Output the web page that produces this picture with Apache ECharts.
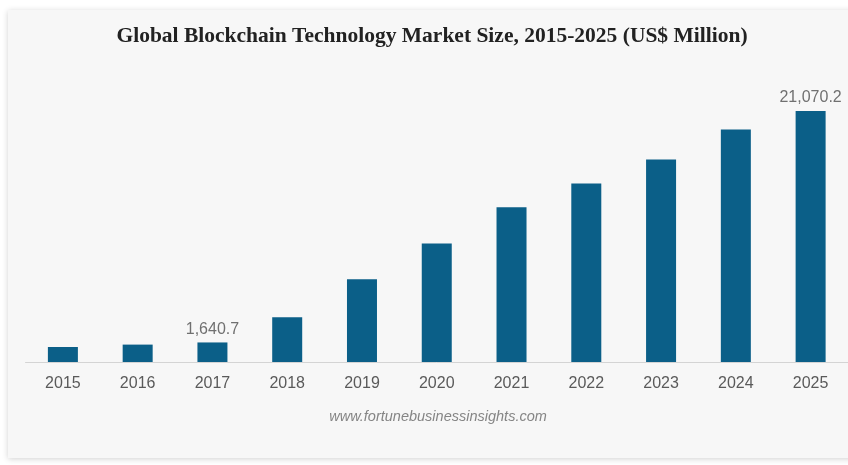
<!DOCTYPE html>
<html>
<head>
<meta charset="utf-8">
<style>
html,body{margin:0;padding:0;background:#ffffff;}
#chart{width:848px;height:465px;}
</style>
<script src="https://cdn.jsdelivr.net/npm/echarts@6/dist/echarts.min.js"></script>
</head>
<body>
<div id="chart"></div>
<script>
const years = ['2015','2016','2017','2018','2019','2020','2021','2022','2023','2024','2025'];
const marketSize = [1260, 1460, 1640.7, 3750, 6940, 9940, 12990, 14980, 16990, 19510, 21070.2];
const labeledYears = ['2017','2025'];
const titleText = 'Global Blockchain Technology Market Size, 2015-2025 (US$ Million)';
const sourceText = 'www.fortunebusinessinsights.com';

function fmt(v){
  const parts = v.toFixed(1).split('.');
  parts[0] = parts[0].replace(/\B(?=(\d{3})+(?!\d))/g, ',');
  return parts.join('.');
}

const chart = echarts.init(document.getElementById('chart'));
chart.setOption({
  backgroundColor: '#ffffff',
  animation: false,
  graphic: [
    {type:'rect', z:-10, shape:{x:8, y:10, width:850, height:448},
     style:{fill:'#f7f7f7', shadowBlur:6, shadowColor:'rgba(0,0,0,0.18)', shadowOffsetX:0, shadowOffsetY:1}},
    {type:'text', x:432, y:36,
     style:{text:titleText, align:'center', verticalAlign:'middle',
            font:'bold 21.5px "Liberation Serif", "Times New Roman", serif', fill:'#222222'}},
    {type:'text', x:438, y:417,
     style:{text:sourceText, align:'center', verticalAlign:'middle',
            font:'italic 14.5px "Liberation Sans", Arial, sans-serif', fill:'#858585'}}
  ],
  grid: {left:25.5, top:76, width:824, height:286, containLabel:false},
  xAxis: {
    type:'category', data: years,
    axisLine:{show:true, lineStyle:{color:'#d4d4d4', width:1}},
    axisTick:{show:false},
    axisLabel:{color:'#5a5a5a', fontSize:16, fontFamily:'"Liberation Sans", Arial, sans-serif', margin:14}
  },
  yAxis: {type:'value', min:0, max:24000, show:false, splitLine:{show:false}},
  series: [{
    type:'bar',
    barWidth:30,
    itemStyle:{color:'#0b5f88'},
    data: marketSize.map((v,i)=>({
      value:v,
      label:{show: labeledYears.includes(years[i]), position:'top', distance:5,
             color:'#707070', fontSize:16, fontFamily:'"Liberation Sans", Arial, sans-serif',
             formatter: p => fmt(p.value)}
    }))
  }]
});
</script>
</body>
</html>
